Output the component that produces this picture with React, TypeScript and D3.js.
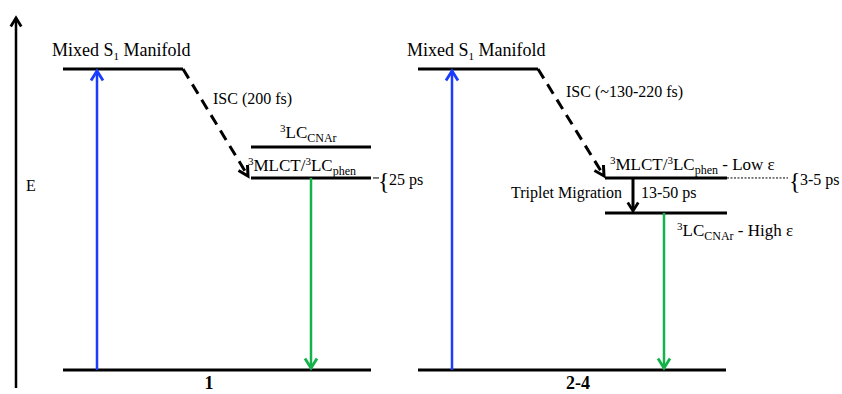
import React from "react";
import * as d3 from "d3";

// ---- Data ----
const panels = ["1", "2-4"];
// Energy levels (arbitrary units, ground = 0)
const levelNames = ["Ground", "S1", "MLCT", "LC_CNAr"];
const energies1 = [0, 100, 63.8, 74.1];
const energies2 = [0, 100, 63.8, 52.2];
const lifetimes1 = ["25 ps"];
const lifetimes2 = ["3-5 ps", "13-50 ps"];
const iscLabels = ["ISC (200 fs)", "ISC (~130-220 fs)"];

const W = 842;
const H = 394;

export default function App() {
  const y = d3.scaleLinear().domain([0, 100]).range([370, 69]);
  const panelX = d3.scaleOrdinal<string, number>().domain(panels).range([63, 418]);

  const font = "Liberation Serif, Tinos, DejaVu Serif, Times New Roman, serif";
  const blue = "#1a3cff";
  const green = "#14b24a";

  const arrowHead = (x: number, yy: number, dir: number, color: string, size = 8) => {
    const line = d3.line();
    return (
      <path
        d={line([
          [x - size * 0.75, yy - dir * size * 1.2],
          [x, yy],
          [x + size * 0.75, yy - dir * size * 1.2],
        ]) as string}
        fill="none"
        stroke={color}
        strokeWidth={2.8}
        strokeLinejoin="miter"
      />
    );
  };

  const diagArrowHead = (x1: number, y1: number, x2: number, y2: number, size = 11) => {
    const ang = Math.atan2(y2 - y1, x2 - x1);
    const a1 = ang + Math.PI - 0.5;
    const a2 = ang + Math.PI + 0.5;
    const line = d3.line();
    return (
      <path
        d={line([
          [x2 + size * Math.cos(a1), y2 + size * Math.sin(a1)],
          [x2, y2],
          [x2 + size * Math.cos(a2), y2 + size * Math.sin(a2)],
        ]) as string}
        fill="none"
        stroke="#000"
        strokeWidth={3}
      />
    );
  };

  const renderPanel = (pi: number) => {
    const p = panels[pi];
    const ox = panelX(p);
    const e = pi === 0 ? energies1 : energies2;
    const yG = y(e[0]);
    const yS1 = y(e[1]);
    const yM = y(e[2]);
    const yL = y(e[3]);
    const s1x0 = ox;
    const s1x1 = ox + 120;
    const tx0 = ox + (pi === 0 ? 188 : 187);
    const tx1 = ox + (pi === 0 ? 308 : 309);
    const blueX = ox + 34;
    const greenX = pi === 0 ? ox + 248 : ox + 246;
    const isoTarget = pi === 0 ? [ox + 185, yM - 2] : [ox + 186, yM - 2];
    const greenStart = pi === 0 ? yM : yL;
    return (
      <g key={p}>
        <line x1={ox} x2={ox + 308} y1={yG} y2={yG} stroke="#000" strokeWidth={3} />
        <line x1={s1x0} x2={s1x1} y1={yS1} y2={yS1} stroke="#000" strokeWidth={3} />
        <line x1={blueX} x2={blueX} y1={yG} y2={yS1 + 1} stroke={blue} strokeWidth={2.5} />
        {arrowHead(blueX, yS1 + 2, -1, blue)}
        <line
          x1={s1x1}
          y1={yS1}
          x2={isoTarget[0]}
          y2={isoTarget[1]}
          stroke="#000"
          strokeWidth={3}
          strokeDasharray="11 7"
        />
        {diagArrowHead(s1x1, yS1, isoTarget[0], isoTarget[1])}
        <text x={ox + (pi === 0 ? 150 : 148)} y={pi === 0 ? 104 : 97} fontSize={16} fontFamily={font}>
          {iscLabels[pi]}
        </text>
        <text x={ox - 11} y={56} fontSize={18} fontFamily={font}>
          Mixed S<tspan fontSize={11} dy={4}>1</tspan>
          <tspan dy={-4}> Manifold</tspan>
        </text>
        <line x1={tx0} x2={tx1} y1={yM} y2={yM} stroke="#000" strokeWidth={3} />
        <line x1={tx0} x2={tx1} y1={yL} y2={yL} stroke="#000" strokeWidth={3} />
        <line x1={greenX} x2={greenX} y1={greenStart} y2={yG - 2} stroke={green} strokeWidth={2.5} />
        {arrowHead(greenX, yG - 2, 1, green)}
        <text
          x={ox + (pi === 0 ? 146 : 160)}
          y={389}
          fontSize={18}
          fontWeight="bold"
          fontFamily={font}
          textAnchor="middle"
        >
          {p}
        </text>
        {pi === 0 ? (
          <g fontFamily={font}>
            <text x={ox + 217} y={138} fontSize={17}>
              <tspan fontSize={11} dy={-6}>3</tspan>
              <tspan dy={6}>LC</tspan>
              <tspan fontSize={12} dy={4}>CNAr</tspan>
            </text>
            <text x={ox + 185} y={171} fontSize={17}>
              <tspan fontSize={11} dy={-6}>3</tspan>
              <tspan dy={6}>MLCT/</tspan>
              <tspan fontSize={11} dy={-6}>3</tspan>
              <tspan dy={6}>LC</tspan>
              <tspan fontSize={12} dy={4}>phen</tspan>
            </text>
            <text x={ox + 315} y={189} fontSize={24}>
              {"{"}
            </text>
            <line x1={tx1 + 2} x2={tx1 + 8} y1={yM} y2={yM} stroke="#000" strokeWidth={1} />
            <text x={ox + 326} y={185} fontSize={16}>
              {lifetimes1[0]}
            </text>
          </g>
        ) : (
          <g fontFamily={font}>
            <text x={ox + 192} y={170} fontSize={17}>
              <tspan fontSize={11} dy={-6}>3</tspan>
              <tspan dy={6}>MLCT/</tspan>
              <tspan fontSize={11} dy={-6}>3</tspan>
              <tspan dy={6}>LC</tspan>
              <tspan fontSize={12} dy={4}>phen</tspan>
              <tspan dy={-4}> - Low ε</tspan>
            </text>
            <line
              x1={tx1}
              x2={ox + 370}
              y1={yM}
              y2={yM}
              stroke="#000"
              strokeWidth={1}
              strokeDasharray="2 1.5"
            />
            <text x={ox + 371} y={189} fontSize={24}>
              {"{"}
            </text>
            <text x={ox + 382} y={185} fontSize={16}>
              {lifetimes2[0]}
            </text>
            <line x1={ox + 215} x2={ox + 215} y1={yM} y2={yL - 3} stroke="#000" strokeWidth={3} />
            {arrowHead(ox + 215, yL - 2, 1, "#000", 7)}
            <text x={ox + 93} y={198} fontSize={16}>
              Triplet Migration
            </text>
            <text x={ox + 223} y={198} fontSize={16}>
              {lifetimes2[1]}
            </text>
            <text x={ox + 259} y={236} fontSize={17}>
              <tspan fontSize={11} dy={-6}>3</tspan>
              <tspan dy={6}>LC</tspan>
              <tspan fontSize={12} dy={4}>CNAr</tspan>
              <tspan dy={-4}> - High ε</tspan>
            </text>
          </g>
        )}
      </g>
    );
  };

  return (
    <svg width={W} height={H} style={{ position: "absolute", left: 0, top: 0, background: "#fff" }}>
      <rect width={W} height={H} fill="#fff" />
      <line x1={16} x2={16} y1={388} y2={20} stroke="#000" strokeWidth={2.5} />
      {arrowHead(16, 18, -1, "#000", 7)}
      <text x={26} y={191} fontSize={16} fontFamily={font}>
        E
      </text>
      {renderPanel(0)}
      {renderPanel(1)}
      <desc>{levelNames.join(",")}</desc>
    </svg>
  );
}
